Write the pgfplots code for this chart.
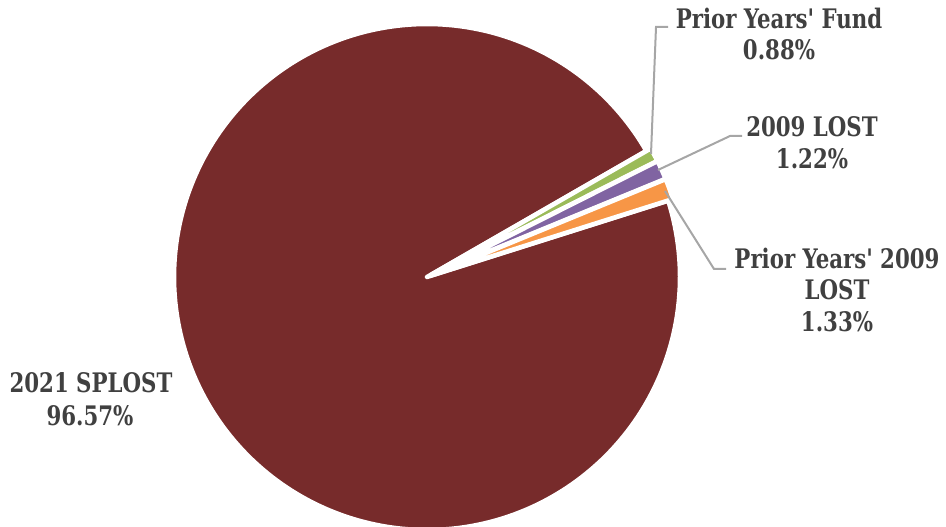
\documentclass[border=0pt]{standalone}
\usepackage{fontspec}
\usepackage{pgfplots}
\pgfplotsset{compat=1.18}
\newfontfamily\lab{DejaVu Serif Condensed Bold}[Ligatures=TeXOff, FakeStretch=0.88]
\definecolor{cSPL}{HTML}{772B2B}
\definecolor{cFund}{HTML}{9BBB59}
\definecolor{cLOST}{HTML}{8064A2}
\definecolor{cPY}{HTML}{F79646}
\definecolor{txt}{HTML}{404040}
\definecolor{lead}{HTML}{A6A6A6}
% pie geometry (px units)
\def\cx{427}\def\cy{250}\def\R{253}
% shares in percent, clockwise from the start angle
\def\pFund{0.88}\def\pLOST{1.22}\def\pPY{1.33}\def\pSPL{96.57}
\def\startang{29.9}
\newcommand{\prep}[4]{% name, start angle, percent, explode
  \pgfmathsetmacro{\tmpa}{#2}%
  \pgfmathsetmacro{\tmpb}{#2-3.6*#3}%
  \pgfmathsetmacro{\tmpm}{(\tmpa+\tmpb)/2}%
  \expandafter\xdef\csname a#1\endcsname{\tmpa}%
  \expandafter\xdef\csname b#1\endcsname{\tmpb}%
  \pgfmathsetmacro{\tmpx}{\cx+#4*cos(\tmpm)}%
  \pgfmathsetmacro{\tmpy}{\cy+#4*sin(\tmpm)}%
  \expandafter\xdef\csname x#1\endcsname{\tmpx}%
  \expandafter\xdef\csname y#1\endcsname{\tmpy}%
}
\prep{F}{\startang}{\pFund}{5}
\prep{L}{\bF}{\pLOST}{5}
\prep{P}{\bL}{\pPY}{5}
\prep{S}{\bP}{\pSPL}{0}
\tikzset{lbl/.style={anchor=base, text=txt, font=\lab\fontsize{27}{32}\selectfont, inner sep=0pt}}
\begin{document}
\begin{tikzpicture}
\begin{axis}[at={(0,0)}, anchor=south west, width=946bp,height=527bp,scale only axis,
  xmin=0,xmax=946,ymin=0,ymax=527,axis lines=none,clip=false]
\addplot[fill=cSPL, draw=white, line width=4.5bp, line join=round, domain=\bS:\aS, samples=240, variable=\t]
  ({\xS+\R*cos(\t)},{\yS+\R*sin(\t)}) -- (axis cs:\xS,\yS) -- cycle;
\addplot[fill=cFund, draw=white, line width=4.5bp, domain=\bF:\aF, samples=10, variable=\t]
  ({\xF+\R*cos(\t)},{\yF+\R*sin(\t)}) -- (axis cs:\xF,\yF) -- cycle;
\addplot[fill=cLOST, draw=white, line width=4.5bp, domain=\bL:\aL, samples=10, variable=\t]
  ({\xL+\R*cos(\t)},{\yL+\R*sin(\t)}) -- (axis cs:\xL,\yL) -- cycle;
\addplot[fill=cPY, draw=white, line width=4.5bp, domain=\bP:\aP, samples=10, variable=\t]
  ({\xP+\R*cos(\t)},{\yP+\R*sin(\t)}) -- (axis cs:\xP,\yP) -- cycle;
% leader lines
\addplot[lead, line width=2bp] coordinates {(668,500) (656,500) (651,373)};
\addplot[lead, line width=2bp] coordinates {(742,391) (730,391) (658,357)};
\addplot[lead, line width=2bp] coordinates {(726,258) (714,258) (665,336)};
% labels
\node[lbl] at (axis cs:779,498.7) {Prior Years' Fund};
\node[lbl] at (axis cs:779,467) {0.88\%};
\node[lbl] at (axis cs:812,390) {2009 LOST};
\node[lbl] at (axis cs:812,358.7) {1.22\%};
\node[lbl] at (axis cs:837,258.5) {Prior Years' 2009};
\node[lbl] at (axis cs:837,227) {LOST};
\node[lbl] at (axis cs:837,195) {1.33\%};
\node[lbl] at (axis cs:91,134) {2021 SPLOST};
\node[lbl] at (axis cs:90,101) {96.57\%};
\end{axis}
\pgfresetboundingbox
\path[use as bounding box] (0,0) rectangle (946bp,527bp);
\end{tikzpicture}
\end{document}
